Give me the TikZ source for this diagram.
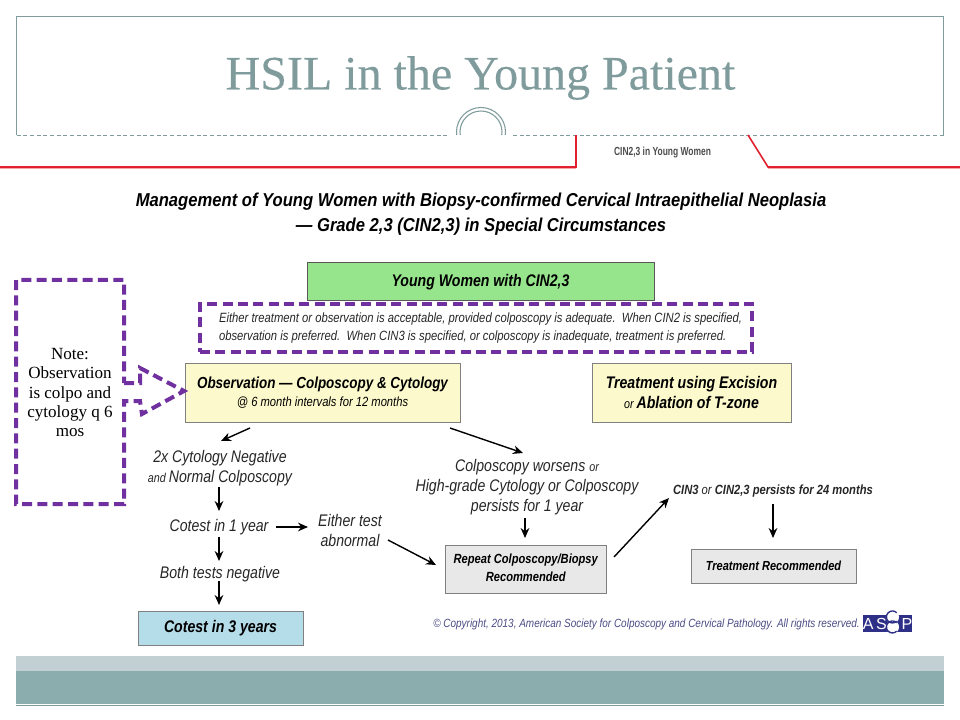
\documentclass[tikz,border=0pt]{standalone}
\usepackage{fontspec}
\usetikzlibrary{arrows.meta}
\setmainfont{Liberation Serif}
\newfontfamily\nar[FakeStretch=0.84]{Liberation Sans}
\newfontfamily\narh[FakeStretch=0.89]{Liberation Sans}
\newfontfamily\narx[FakeStretch=0.72]{Liberation Sans}
\newfontfamily\logofont{Liberation Sans}
\newfontfamily\titlefont[FakeBold=0.25]{Liberation Serif}
\newcommand{\fsz}[1]{\fontsize{#1}{#1}\selectfont}
\definecolor{slate}{HTML}{7F9B9C}
\definecolor{redline}{HTML}{E0202C}
\definecolor{pinkline}{HTML}{F4A6AA}
\definecolor{purp}{HTML}{7030A0}
\definecolor{bandl}{HTML}{C2CFD3}
\definecolor{bandd}{HTML}{8CADAE}
\definecolor{navy}{HTML}{2E2F86}
\definecolor{copyc}{HTML}{4B4B85}
\tikzset{
  x=0.75pt,y=-0.75pt,
  arr/.style={draw=black,line width=1.05pt,-{Stealth[length=7.5pt,width=6.5pt]}},
  box/.style={draw=#1,line width=0.75pt,inner sep=0pt,align=center,text=black},
  txt/.style={inner sep=0pt,align=center,text=black!85},
  dashp/.style={draw=purp,line width=3pt,dash pattern=on 7.5pt off 4pt},
}
\begin{document}
\begin{tikzpicture}
\useasboundingbox (0,0) rectangle (960,720);
% header frame
\draw[slate,line width=0.8pt] (16.5,135) -- (16.5,16.5) -- (943.5,16.5) -- (943.5,135);
\draw[slate,line width=0.6pt,densely dashed] (16.5,135) -- (448,135);
\draw[slate,line width=0.6pt,densely dashed] (513,135) -- (943.5,135);
\begin{scope}
\clip (440,100) rectangle (520,135);
\draw[slate,line width=0.8pt] (481,132) circle[radius=24.5];
\draw[slate,line width=0.8pt] (481,132) circle[radius=21];
\end{scope}
\node[inner sep=0pt,text=slate] (title) at (480.5,78) {\titlefont\fsz{36}HSIL in the Young Patient};
% red tab line
\draw[pinkline,line width=0.75pt] (0,168.5) -- (576,168.5);
\draw[pinkline,line width=0.75pt] (768,168.5) -- (960,168.5);
\draw[redline,line width=1.2pt] (0,167) -- (576,167) -- (576,135);
\draw[redline,line width=1.2pt] (748,135) -- (768,167) -- (960,167);
\node[txt,text=black!70] (tab) at (662.5,152.5) {\narx\bfseries\fsz{8.8}CIN2,3 in Young Women};
% heading
\node[txt,text=black] (head) at (481,214) {\narh\bfseries\itshape\fsz{14}Management of Young Women with Biopsy-confirmed Cervical Intraepithelial Neoplasia\\[5pt]\narh\bfseries\itshape\fsz{14}— Grade 2,3 (CIN2,3) in Special Circumstances};
% boxes
\node[box=black!65,fill={rgb,255:red,150;green,229;blue,140},minimum width=260.25pt,minimum height=28.5pt] (young) at (480.5,282) {\raisebox{-0.75pt}{\nar\bfseries\itshape\fsz{12.6}Young Women with CIN2,3}};
\node[dashp,minimum width=414pt,minimum height=36pt,inner sep=0pt,align=left,text=black!85] (either) at (476,328) {\hspace*{6.8pt}\nar\itshape\fsz{10.05}Either treatment or observation is acceptable, provided colposcopy is adequate.\ \ When CIN2 is specified,\\[1.5pt]\hspace*{6.8pt}\nar\itshape\fsz{10.05}observation is preferred.\ \ When CIN3 is specified, or colposcopy is inadequate, treatment is preferred.};
\node[box=black!50,fill={rgb,255:red,252;green,249;blue,204},minimum width=206.25pt,minimum height=44.25pt] (obs) at (322.5,392.5) {\nar\bfseries\itshape\fsz{12}Observation — Colposcopy \& Cytology\\[1pt]\nar\itshape\fsz{10}@ 6 month intervals for 12 months};
\node[box=black!50,fill={rgb,255:red,252;green,249;blue,204},minimum width=149.25pt,minimum height=44.25pt] (treat) at (691.5,392.5) {\nar\bfseries\itshape\fsz{12.6}Treatment using Excision\\[3pt]\nar\itshape\fsz{9.6}or \nar\bfseries\itshape\fsz{12.6}Ablation of T-zone};
\node[box=black!50,fill={rgb,255:red,181;green,220;blue,233},minimum width=123.75pt,minimum height=25.5pt] (three) at (220.5,628) {\raisebox{-1.3pt}{\nar\bfseries\itshape\fsz{12.6}Cotest in 3 years}};
\node[box=black!50,fill=black!9,minimum width=120.5pt,minimum height=36pt] (rep) at (525.75,569) {\raisebox{-0.75pt}{\begin{tabular}{@{}c@{}}\nar\bfseries\itshape\fsz{9.95}Repeat Colposcopy/Biopsy\\[1.5pt]\nar\bfseries\itshape\fsz{9.95}Recommended\end{tabular}}};
\node[box=black!50,fill=black!9,minimum width=123.75pt,minimum height=25.5pt] (trec) at (773.5,566) {\nar\bfseries\itshape\fsz{9.85}Treatment Recommended};
% free text
\node[txt] (twox) at (220,468) {\nar\itshape\fsz{12.6}2x Cytology Negative\\[3pt]\nar\itshape\fsz{9.6}and \fsz{12.6}Normal Colposcopy};
\node[txt] (cotone) at (219,527.5) {\nar\itshape\fsz{12.6}Cotest in 1 year};
\node[txt] (both) at (220,574.5) {\nar\itshape\fsz{12.6}Both tests negative};
\node[txt] (abn) at (350,530) {\nar\itshape\fsz{12.6}Either test\\[3pt]\nar\itshape\fsz{12.6}abnormal};
\node[txt] (worse) at (527,487) {\nar\itshape\fsz{12.6}Colposcopy worsens \fsz{9.6}or\\[3pt]\nar\itshape\fsz{12.6}High-grade Cytology or Colposcopy\\[3pt]\nar\itshape\fsz{12.6}persists for 1 year};
\node[txt] (cin) at (773,491) {\nar\bfseries\itshape\fsz{10}CIN3 {\mdseries or} CIN2,3 persists for 24 months};
\node[txt,text=copyc] (copy) at (646.5,624) {\nar\itshape\fsz{8.9}\textcopyright{} Copyright, 2013, American Society for Colposcopy and Cervical Pathology. All rights reserved.};
% logo
\node[fill=navy,text=white,inner sep=0pt,minimum width=36.75pt,minimum height=12.75pt] (logo) at (887.5,623.5) {\logofont\fsz{12}A\hspace{2pt}S\hspace{11pt}P};
\fill[white] (892.5,617) circle[radius=6.5] (892.5,627) circle[radius=6.5];
\draw[navy,line width=1pt] (896.7,621.2) arc[start angle=45,end angle=315,radius=6];
\draw[navy,line width=1pt] (896.7,631.2) arc[start angle=45,end angle=315,radius=6];
% note callout
\draw[dashp,line join=miter] (124,383) -- (140,383) -- (140,368) -- (184,391) -- (142,414) -- (140,401) -- (124,401) -- (124,504) -- (16,504) -- (16,280) -- (124,280) -- cycle;
\node[inner sep=0pt,align=center,text=black,font=\fontsize{12.8}{14.4}\selectfont] (note) at (70,392.5) {Note:\\Observation\\is colpo and\\cytology q 6\\mos};
% connectors
\draw[arr] ([shift={(-72.5,35.5)}]obs.center) -- ([shift={(1,-27)}]twox.center);
\draw[arr] ([shift={(127.5,35.5)}]obs.center) -- ([shift={(-4,-34)}]worse.center);
\draw[arr] ([shift={(-1,19)}]twox.center) -- ([shift={(0,-16.5)}]cotone.center);
\draw[arr] ([shift={(0,9.5)}]cotone.center) -- ([shift={(-1,-13.5)}]both.center);
\draw[arr] ([shift={(-1,6.5)}]both.center) -- ([shift={(-1.5,-23)}]three.center);
\draw[arr] ([shift={(57,-0.5)}]cotone.center) -- ([shift={(-42,-3)}]abn.center);
\draw[arr] ([shift={(38,10)}]abn.center) -- ([shift={(-89.75,-4)}]rep.center);
\draw[arr] ([shift={(-2,31)}]worse.center) -- ([shift={(-0.75,-31)}]rep.center);
\draw[arr] ([shift={(88.25,-12)}]rep.center) -- ([shift={(-104,7)}]cin.center);
\draw[arr] ([shift={(0,13)}]cin.center) -- ([shift={(-0.5,-28)}]trec.center);
% bottom bands
\fill[bandl] (16,656) rectangle (944,671);
\fill[bandd] (16,671) rectangle (944,704);
\draw[slate,line width=0.4pt] (16,704.8) -- (944,704.8);
\end{tikzpicture}
\end{document}
